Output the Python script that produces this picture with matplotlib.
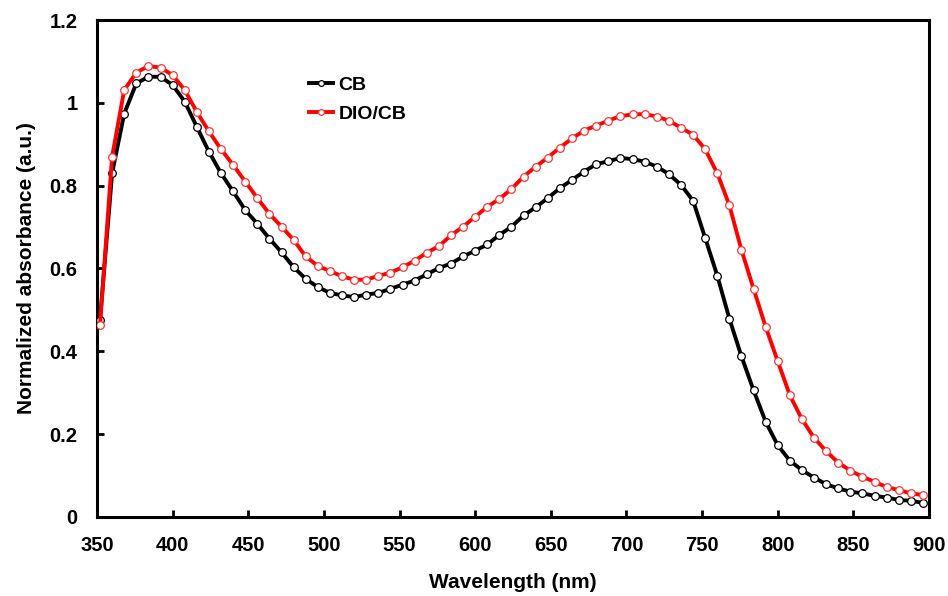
import matplotlib
matplotlib.use("Agg")
import matplotlib.pyplot as plt

# wavelength (nm) of each marker
wavelength = [352, 360, 368, 376, 384, 392, 400, 408, 416, 424,
              432, 440, 448, 456, 464, 472, 480, 488, 496, 504,
              512, 520, 528, 536, 544, 552, 560, 568, 576, 584,
              592, 600, 608, 616, 624, 632, 640, 648, 656, 664,
              672, 680, 688, 696, 704, 712, 720, 728, 736, 744,
              752, 760, 768, 776, 784, 792, 800, 808, 816, 824,
              832, 840, 848, 856, 864, 872, 880, 888, 896]

cb = [0.476, 0.830, 0.974, 1.047, 1.063, 1.063, 1.043, 1.003, 0.942, 0.882,
      0.830, 0.786, 0.741, 0.708, 0.672, 0.639, 0.603, 0.575, 0.555, 0.541,
      0.535, 0.531, 0.537, 0.541, 0.551, 0.561, 0.571, 0.586, 0.601, 0.612,
      0.629, 0.643, 0.658, 0.681, 0.701, 0.728, 0.748, 0.770, 0.794, 0.814,
      0.834, 0.852, 0.859, 0.867, 0.864, 0.858, 0.846, 0.828, 0.802, 0.764,
      0.674, 0.583, 0.479, 0.388, 0.306, 0.230, 0.173, 0.136, 0.113, 0.095,
      0.079, 0.069, 0.061, 0.057, 0.051, 0.047, 0.041, 0.039, 0.034]

dio_cb = [0.463, 0.870, 1.031, 1.073, 1.089, 1.085, 1.067, 1.031, 0.978, 0.931,
          0.888, 0.850, 0.810, 0.770, 0.732, 0.701, 0.669, 0.629, 0.606, 0.594,
          0.581, 0.573, 0.573, 0.582, 0.590, 0.603, 0.619, 0.638, 0.654, 0.680,
          0.701, 0.725, 0.749, 0.768, 0.792, 0.822, 0.846, 0.868, 0.892, 0.914,
          0.933, 0.945, 0.957, 0.968, 0.972, 0.973, 0.967, 0.957, 0.940, 0.923,
          0.888, 0.830, 0.753, 0.645, 0.551, 0.459, 0.376, 0.294, 0.236, 0.191,
          0.159, 0.131, 0.112, 0.097, 0.085, 0.072, 0.065, 0.057, 0.053]

xticks = [350, 400, 450, 500, 550, 600, 650, 700, 750, 800, 850, 900]
yticks = [0, 0.2, 0.4, 0.6, 0.8, 1.0, 1.2]
ytick_labels = ["0", "0.2", "0.4", "0.6", "0.8", "1", "1.2"]

plt.rcParams['font.family'] = ['Liberation Sans', 'DejaVu Sans']
plt.rcParams['font.weight'] = 'bold'

fig = plt.figure(figsize=(9.48, 5.96), dpi=100)
ax = fig.add_axes([0.1023, 0.1326, 0.8777, 0.8338])

ax.plot(wavelength, cb, color='black', lw=2.8, marker='o', ms=5.5,
        mfc='white', mec='black', mew=0.9, label='CB', zorder=3)
ax.plot(wavelength, dio_cb, color='#ff0000', lw=2.8, marker='o', ms=5.5,
        mfc='white', mec='#ee3b3b', mew=0.9, label='DIO/CB', zorder=3)

ax.set_xlim(350, 900)
ax.set_ylim(0, 1.2)
ax.set_xticks(xticks)
ax.set_yticks(yticks)
ax.set_yticklabels(ytick_labels)
ax.tick_params(direction='in', length=5, width=2, labelsize=14.5, pad=14,
               top=False, right=False)

for s in ax.spines.values():
    s.set_linewidth(2.2)

ax.set_xlabel('Wavelength (nm)', fontsize=15, fontweight='bold', labelpad=13)
ax.set_ylabel('Normalized absorbance (a.u.)', fontsize=15, fontweight='bold', labelpad=10)

leg = ax.legend(loc='upper left', bbox_to_anchor=(0.234, 0.922), frameon=False,
                fontsize=14, handlelength=1.2, handletextpad=0.3,
                labelspacing=0.6, markerscale=0.75)

fig.savefig('out.png', dpi=100)
